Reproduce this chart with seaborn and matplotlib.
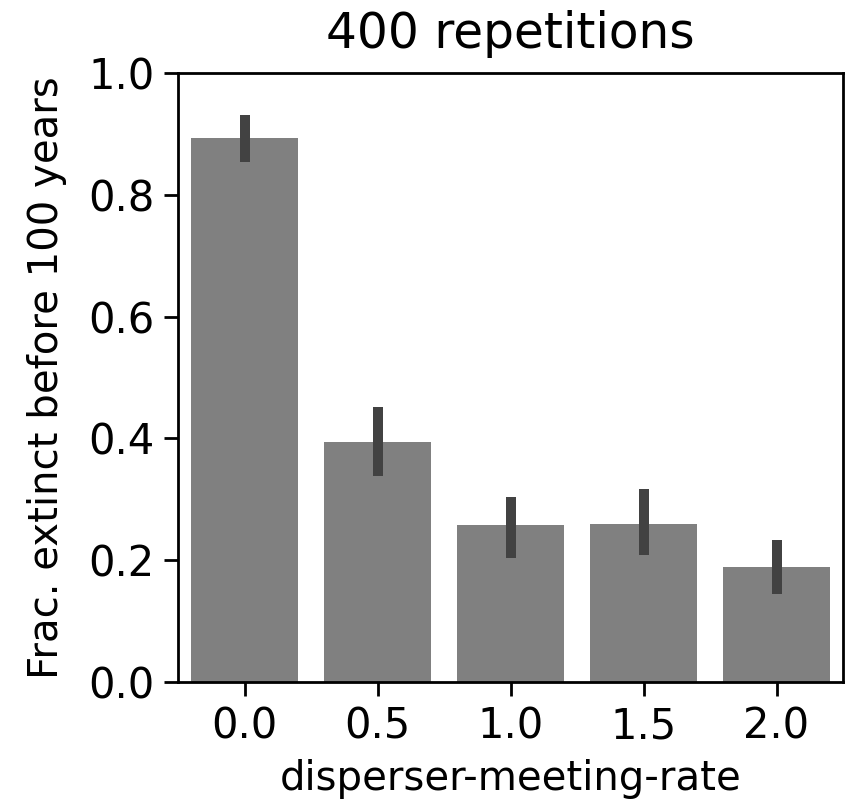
import matplotlib
matplotlib.use("Agg")
import matplotlib.pyplot as plt
import seaborn as sns
import pandas as pd

rates = ["0.0", "0.5", "1.0", "1.5", "2.0"]
frac_extinct = [0.893, 0.394, 0.257, 0.260, 0.189]
ci_low = [0.854, 0.338, 0.204, 0.208, 0.144]
ci_high = [0.931, 0.452, 0.304, 0.317, 0.233]

df = pd.DataFrame({"disperser-meeting-rate": rates, "frac": frac_extinct})

plt.rcParams["font.family"] = ["DejaVu Sans"]
fig = plt.figure(figsize=(4.23, 4.01), dpi=200)
ax = fig.add_axes([178 / 846, 1 - 682 / 802, (843 - 178) / 846, (682 - 73) / 802])

sns.barplot(data=df, x="disperser-meeting-rate", y="frac", color="gray",
            errorbar=None, ax=ax)
ax.vlines(range(len(rates)), ci_low, ci_high, color="#424242", linewidth=3.6)

ax.set_xlim(-0.5, len(rates) - 0.5)
ax.set_ylim(0, 1.0)
ax.set_yticks([0.0, 0.2, 0.4, 0.6, 0.8, 1.0])
ax.set_ylabel("Frac. extinct before 100 years", fontsize=14.5, labelpad=7.5)
ax.set_xlabel("disperser-meeting-rate", fontsize=14.5)
ax.set_title("400 repetitions", fontsize=17.5, pad=9)
ax.tick_params(labelsize=15, width=1.0, length=5)
for s in ax.spines.values():
    s.set_linewidth(1.0)

fig.savefig("out.png", dpi=200)
